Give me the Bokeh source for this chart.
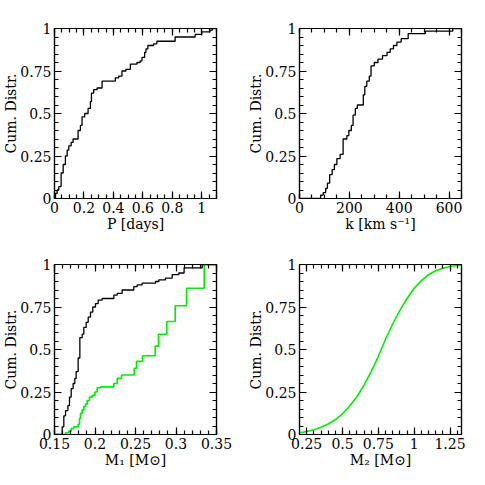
import numpy as np
from bokeh.plotting import figure
from bokeh.layouts import gridplot
from bokeh.models import Range1d, LinearAxis, FixedTicker, CustomJSTickFormatter
from bokeh.embed import file_html
from bokeh.resources import INLINE

# ---------------- data ----------------
# Panel 1: orbital period P [days], cumulative distribution (step positions / level after step)
p_steps = [0.007, 0.018, 0.029, 0.045, 0.059, 0.074, 0.086, 0.097, 0.113, 0.126, 0.160,
           0.176, 0.187, 0.205, 0.228, 0.244, 0.251, 0.266, 0.289, 0.323, 0.413, 0.436,
           0.458, 0.485, 0.515, 0.560, 0.582, 0.594, 0.612, 0.621, 0.634, 0.673, 0.695,
           0.819, 0.955, 1.000, 1.056, 1.072]
p_cum = [0.03, 0.05, 0.07, 0.15, 0.20, 0.25, 0.285, 0.31, 0.33, 0.35, 0.40,
         0.43, 0.48, 0.50, 0.53, 0.57, 0.62, 0.64, 0.65, 0.69, 0.71, 0.72,
         0.75, 0.76, 0.79, 0.80, 0.81, 0.83, 0.86, 0.88, 0.90, 0.91, 0.925,
         0.95, 0.965, 0.98, 0.99, 1.0]

# Panel 2: semi-amplitude k [km/s]
k_steps = [85, 95, 105, 112, 121, 131, 140, 150, 163, 175, 190, 198, 208, 215, 224, 232,
           256, 262, 270, 280, 287, 300, 315, 333, 351, 364, 377, 391, 408, 436, 505, 615]
k_cum = [0.02, 0.035, 0.06, 0.09, 0.14, 0.17, 0.20, 0.235, 0.26, 0.35, 0.37, 0.40, 0.43,
         0.49, 0.53, 0.55, 0.61, 0.66, 0.69, 0.72, 0.78, 0.80, 0.82, 0.84, 0.86, 0.88,
         0.90, 0.92, 0.94, 0.97, 0.985, 1.0]

# Panel 3: M1 [Msun] -- black sample and green comparison
m1_steps = [0.1595, 0.1615, 0.1636, 0.1665, 0.1685, 0.1706, 0.1730, 0.1751, 0.1767, 0.1792,
            0.1813, 0.1842, 0.1862, 0.1891, 0.1916, 0.1944, 0.1973, 0.2006, 0.2039, 0.2088,
            0.2233, 0.2274, 0.2335, 0.2479, 0.2521, 0.2582, 0.2747, 0.2788, 0.2870, 0.2953,
            0.3035, 0.3100, 0.3323]
m1_cum = [0.045, 0.11, 0.14, 0.17, 0.22, 0.27, 0.30, 0.33, 0.37, 0.45,
          0.57, 0.59, 0.63, 0.66, 0.69, 0.72, 0.75, 0.77, 0.79, 0.80,
          0.82, 0.83, 0.85, 0.87, 0.88, 0.89, 0.90, 0.91, 0.92, 0.94,
          0.95, 0.98, 1.0]

m1g_steps = [0.1636, 0.1677, 0.1706, 0.1739, 0.1792, 0.1809, 0.1821, 0.1842, 0.1862, 0.1883,
             0.1903, 0.1932, 0.1965, 0.1998, 0.2027, 0.2068, 0.2233, 0.2274, 0.2327, 0.2484,
             0.2512, 0.2586, 0.2743, 0.2784, 0.2887, 0.2990, 0.3130, 0.3348]
m1g_cum = [0.01, 0.02, 0.035, 0.045, 0.06, 0.095, 0.125, 0.145, 0.165, 0.18,
           0.20, 0.22, 0.23, 0.25, 0.275, 0.28, 0.30, 0.33, 0.35, 0.39,
           0.43, 0.463, 0.52, 0.59, 0.665, 0.757, 0.86, 1.0]

# Panel 4: M2 [Msun] smooth cumulative curve
m2_x = [0.20, 0.25, 0.30, 0.35, 0.40, 0.45, 0.50, 0.55, 0.60, 0.65, 0.70, 0.75,
        0.80, 0.85, 0.90, 0.95, 1.00, 1.05, 1.10, 1.15, 1.20, 1.25, 1.30, 1.33]
m2_cum = [0.010, 0.018, 0.028, 0.043, 0.062, 0.087, 0.122, 0.168, 0.222, 0.290, 0.370, 0.460,
          0.560, 0.650, 0.730, 0.800, 0.860, 0.905, 0.940, 0.963, 0.978, 0.988, 0.994, 0.996]

# ---------------- styling ----------------
FONT = "DejaVu Serif"
GREEN = "#00ee00"
fmt = CustomJSTickFormatter(code="return String(Math.round(tick*1000)/1000);")
blank_fmt = CustomJSTickFormatter(code="return '';")


def ticker(lo, hi, major, minor):
    maj = [round(v, 6) for v in np.arange(lo, hi + 1e-9, major)]
    mnr = [round(v, 6) for v in np.arange(lo, hi + 1e-9, minor)]
    return FixedTicker(ticks=maj, minor_ticks=mnr)


def style_axis(ax, tk, labels=True, label=None):
    ax.ticker = tk
    ax.major_tick_in = 7
    ax.major_tick_out = 0
    ax.minor_tick_in = 4
    ax.minor_tick_out = 0
    ax.axis_line_color = "black"
    ax.axis_line_width = 1.2
    ax.major_tick_line_color = "black"
    ax.minor_tick_line_color = "black"
    ax.major_tick_line_width = 1.2
    ax.minor_tick_line_width = 1.2
    if labels:
        ax.formatter = fmt
        ax.major_label_text_font = FONT
        ax.major_label_text_font_size = "14px"
        ax.major_label_text_color = "black"
        ax.major_label_standoff = 3
    else:
        ax.formatter = blank_fmt
        ax.major_label_text_font_size = "1px"
        ax.major_label_standoff = 0
    if label is not None:
        ax.axis_label = label
        ax.axis_label_text_font = FONT
        ax.axis_label_text_font_size = "14px"
        ax.axis_label_text_font_style = "normal"
        ax.axis_label_text_color = "black"
        ax.axis_label_standoff = 0


def make_fig(xr, xtk, xlabel, borders):
    l, r, t, b = borders
    p = figure(frame_width=162, frame_height=170,
               x_range=Range1d(*xr), y_range=Range1d(0, 1),
               x_axis_location=None, y_axis_location=None,
               output_backend="svg", toolbar_location=None,
               min_border_left=l, min_border_right=r, min_border_top=t, min_border_bottom=b)
    p.grid.visible = False
    p.outline_line_color = "black"
    p.outline_line_width = 1.2
    p.background_fill_color = "white"
    p.border_fill_color = "white"
    ytk = ticker(0, 1, 0.25, 0.05)
    bottom = LinearAxis(); style_axis(bottom, xtk, True, xlabel)
    top = LinearAxis(); style_axis(top, xtk, False)
    left = LinearAxis(); style_axis(left, ytk, True, "Cum. Distr.")
    right = LinearAxis(); style_axis(right, ytk, False)
    left.axis_label_standoff = -2
    p.add_layout(bottom, "below")
    p.add_layout(top, "above")
    p.add_layout(left, "left")
    p.add_layout(right, "right")
    return p


def step_xy(start, steps, cum, end):
    xs = [start] + list(steps) + [end]
    ys = [0.0] + list(cum) + [cum[-1]]
    return xs, ys


p1 = make_fig((0, 1.1), ticker(0, 1.1, 0.2, 0.05), "P [days]", (44, 29, 28, 50))
x, y = step_xy(0, p_steps, p_cum, 1.1)
p1.step(x, y, mode="after", line_color="black", line_width=1.3)

p2 = make_fig((0, 650), ticker(0, 650, 200, 50), "k [km s\u207b\u00b9]", (51, 10, 28, 50))
x, y = step_xy(0, k_steps, k_cum, 650)
p2.step(x, y, mode="after", line_color="black", line_width=1.3)

p3 = make_fig((0.15, 0.35), ticker(0.15, 0.35, 0.05, 0.01), "M\u2081 [M\u2299]", (44, 29, 16, 38))
x, y = step_xy(0.15, m1g_steps, m1g_cum, 0.35)
p3.step(x, y, mode="after", line_color=GREEN, line_width=1.6)
x, y = step_xy(0.15, m1_steps, m1_cum, 0.35)
p3.step(x, y, mode="after", line_color="black", line_width=1.3)

p4 = make_fig((0.2, 1.33), ticker(0.25, 1.33, 0.25, 0.05), "M\u2082 [M\u2299]", (51, 10, 16, 38))
p4.line(m2_x, m2_cum, line_color=GREEN, line_width=1.6)

grid = gridplot([[p1, p2], [p3, p4]], toolbar_location=None)

open("out.html", "w").write(file_html(grid, INLINE))
